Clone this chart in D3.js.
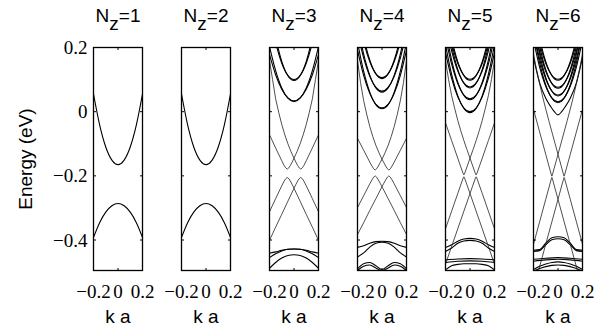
<!DOCTYPE html>
<html>
<head>
<meta charset="utf-8">
<script src="https://cdn.jsdelivr.net/npm/d3@7"></script>
<style>
  body { margin: 0; background: #fff; }
</style>
</head>
<body>
<div id="chart"></div>
<script>
// ---------------- data ----------------
const nzLabels = [1, 2, 3, 4, 5, 6];
const kTicks = [-0.2, 0, 0.2];
const kTickLabels = ["\u22120.2", "0", "0.2"];
const eTicks = [-0.4, -0.2, 0, 0.2];
const eTickLabels = ["\u22120.4", "\u22120.2", "0", "0.2"];
const kDomain = [-0.2, 0.2];
const eDomain = [-0.495, 0.2];

// smooth bulk-like subbands, [k a, E] pairs
const subbandsNz1 = [
  [[-0.2,0.055],[-0.15,-0.041],[-0.1,-0.110],[-0.05,-0.151],[0,-0.165],[0.05,-0.151],[0.1,-0.110],[0.15,-0.041],[0.2,0.055]],
  [[-0.2,-0.392],[-0.15,-0.346],[-0.1,-0.313],[-0.05,-0.293],[0,-0.286],[0.05,-0.293],[0.1,-0.313],[0.15,-0.346],[0.2,-0.392]]
];
const subbandsNz2 = [
  [[-0.2,0.055],[-0.15,-0.041],[-0.1,-0.110],[-0.05,-0.151],[0,-0.165],[0.05,-0.151],[0.1,-0.110],[0.15,-0.041],[0.2,0.055]],
  [[-0.2,-0.392],[-0.15,-0.346],[-0.1,-0.313],[-0.05,-0.293],[0,-0.286],[0.05,-0.293],[0.1,-0.313],[0.15,-0.346],[0.2,-0.392]]
];
const subbandsNz3 = [
  [[-0.2,0.304],[-0.15,0.215],[-0.1,0.151],[-0.05,0.113],[0,0.100],[0.05,0.113],[0.1,0.151],[0.15,0.215],[0.2,0.304]],
  [[-0.2,0.337],[-0.15,0.232],[-0.1,0.157],[-0.05,0.112],[0,0.097],[0.05,0.112],[0.1,0.157],[0.15,0.232],[0.2,0.337]],
  [[-0.2,0.178],[-0.15,0.115],[-0.1,0.070],[-0.05,0.043],[0,0.034],[0.05,0.043],[0.1,0.070],[0.15,0.115],[0.2,0.178]],
  [[-0.2,0.203],[-0.15,0.128],[-0.1,0.074],[-0.05,0.042],[0,0.031],[0.05,0.042],[0.1,0.074],[0.15,0.128],[0.2,0.203]],
  [[-0.2,-0.455],[-0.15,-0.443],[-0.1,-0.434],[-0.05,-0.429],[0,-0.428],[0.05,-0.429],[0.1,-0.432],[0.15,-0.437],[0.2,-0.441]],
  [[-0.2,-0.441],[-0.15,-0.437],[-0.1,-0.432],[-0.05,-0.429],[0,-0.428],[0.05,-0.429],[0.1,-0.434],[0.15,-0.443],[0.2,-0.455]],
  [[-0.2,-0.488],[-0.15,-0.470],[-0.1,-0.456],[-0.05,-0.448],[0,-0.446],[0.05,-0.448],[0.1,-0.456],[0.15,-0.470],[0.2,-0.488]]
];
const subbandsNz4 = [
  [[-0.2,0.306],[-0.15,0.2185],[-0.1,0.156],[-0.05,0.1185],[0,0.106],[0.05,0.1185],[0.1,0.156],[0.15,0.2185],[0.2,0.306]],
  [[-0.2,0.335],[-0.15,0.2335],[-0.1,0.161],[-0.05,0.1175],[0,0.103],[0.05,0.1175],[0.1,0.161],[0.15,0.2335],[0.2,0.335]],
  [[-0.2,0.248],[-0.15,0.1675],[-0.1,0.110],[-0.05,0.0755],[0,0.064],[0.05,0.0755],[0.1,0.110],[0.15,0.1675],[0.2,0.248]],
  [[-0.2,0.273],[-0.15,0.180],[-0.1,0.114],[-0.05,0.0743],[0,0.061],[0.05,0.0743],[0.1,0.114],[0.15,0.180],[0.2,0.273]],
  [[-0.2,0.192],[-0.15,0.113],[-0.1,0.057],[-0.05,0.023],[0,0.012],[0.05,0.023],[0.1,0.057],[0.15,0.113],[0.2,0.192]],
  [[-0.2,0.217],[-0.15,0.126],[-0.1,0.061],[-0.05,0.022],[0,0.009],[0.05,0.022],[0.1,0.061],[0.15,0.126],[0.2,0.217]],
  [[-0.2,-0.423],[-0.15,-0.418],[-0.1,-0.410],[-0.05,-0.405],[0,-0.404],[0.05,-0.405],[0.1,-0.410],[0.15,-0.418],[0.2,-0.423]],
  [[-0.2,-0.453],[-0.15,-0.440],[-0.1,-0.422],[-0.05,-0.410],[0,-0.407],[0.05,-0.410],[0.1,-0.422],[0.15,-0.440],[0.2,-0.453]],
  [[-0.2,-0.490],[-0.15,-0.474],[-0.1,-0.470],[-0.05,-0.480],[0,-0.492],[0.05,-0.480],[0.1,-0.470],[0.15,-0.474],[0.2,-0.490]],
  [[-0.2,-0.495],[-0.15,-0.482],[-0.1,-0.478],[-0.05,-0.487],[0,-0.495],[0.05,-0.487],[0.1,-0.478],[0.15,-0.482],[0.2,-0.495]]
];
const subbandsNz5 = [
  [[-0.2,0.301],[-0.15,0.2135],[-0.1,0.151],[-0.05,0.1135],[0,0.101],[0.05,0.1135],[0.1,0.151],[0.15,0.2135],[0.2,0.301]],
  [[-0.2,0.330],[-0.15,0.2285],[-0.1,0.156],[-0.05,0.1125],[0,0.098],[0.05,0.1125],[0.1,0.156],[0.15,0.2285],[0.2,0.330]],
  [[-0.2,0.277],[-0.15,0.1895],[-0.1,0.127],[-0.05,0.0895],[0,0.077],[0.05,0.0895],[0.1,0.127],[0.15,0.1895],[0.2,0.277]],
  [[-0.2,0.306],[-0.15,0.2045],[-0.1,0.132],[-0.05,0.0885],[0,0.074],[0.05,0.0885],[0.1,0.132],[0.15,0.2045],[0.2,0.306]],
  [[-0.2,0.232],[-0.15,0.148],[-0.1,0.088],[-0.05,0.052],[0,0.040],[0.05,0.052],[0.1,0.088],[0.15,0.148],[0.2,0.232]],
  [[-0.2,0.257],[-0.15,0.161],[-0.1,0.092],[-0.05,0.0508],[0,0.037],[0.05,0.0508],[0.1,0.092],[0.15,0.161],[0.2,0.257]],
  [[-0.2,0.184],[-0.15,0.1035],[-0.1,0.046],[-0.05,0.0115],[0,0.000],[0.05,0.0115],[0.1,0.046],[0.15,0.1035],[0.2,0.184]],
  [[-0.2,0.209],[-0.15,0.116],[-0.1,0.050],[-0.05,0.0103],[0,-0.003],[0.05,0.0103],[0.1,0.050],[0.15,0.116],[0.2,0.209]],
  [[-0.2,-0.423],[-0.15,-0.415],[-0.1,-0.404],[-0.05,-0.397],[0,-0.395],[0.05,-0.397],[0.1,-0.404],[0.15,-0.415],[0.2,-0.423]],
  [[-0.2,-0.436],[-0.15,-0.425],[-0.1,-0.410],[-0.05,-0.403],[0,-0.401],[0.05,-0.403],[0.1,-0.410],[0.15,-0.425],[0.2,-0.436]],
  [[-0.2,-0.462],[-0.1,-0.459],[0,-0.458],[0.1,-0.459],[0.2,-0.462]],
  [[-0.2,-0.470],[-0.1,-0.466],[0,-0.465],[0.1,-0.466],[0.2,-0.470]],
  [[-0.2,-0.493],[-0.15,-0.480],[-0.1,-0.476],[-0.05,-0.474],[0,-0.474],[0.05,-0.474],[0.1,-0.476],[0.15,-0.480],[0.2,-0.493]]
];
const subbandsNz6 = [
  [[-0.2,0.301],[-0.15,0.2135],[-0.1,0.151],[-0.05,0.1135],[0,0.101],[0.05,0.1135],[0.1,0.151],[0.15,0.2135],[0.2,0.301]],
  [[-0.2,0.330],[-0.15,0.2285],[-0.1,0.156],[-0.05,0.1125],[0,0.098],[0.05,0.1125],[0.1,0.156],[0.15,0.2285],[0.2,0.330]],
  [[-0.2,0.276],[-0.15,0.1885],[-0.1,0.126],[-0.05,0.0885],[0,0.076],[0.05,0.0885],[0.1,0.126],[0.15,0.1885],[0.2,0.276]],
  [[-0.2,0.305],[-0.15,0.2035],[-0.1,0.131],[-0.05,0.0875],[0,0.073],[0.05,0.0875],[0.1,0.131],[0.15,0.2035],[0.2,0.305]],
  [[-0.2,0.252],[-0.15,0.1645],[-0.1,0.102],[-0.05,0.0645],[0,0.052],[0.05,0.0645],[0.1,0.102],[0.15,0.1645],[0.2,0.252]],
  [[-0.2,0.281],[-0.15,0.1795],[-0.1,0.107],[-0.05,0.0635],[0,0.049],[0.05,0.0635],[0.1,0.107],[0.15,0.1795],[0.2,0.281]],
  [[-0.2,0.223],[-0.15,0.139],[-0.1,0.079],[-0.05,0.043],[0,0.031],[0.05,0.043],[0.1,0.079],[0.15,0.139],[0.2,0.223]],
  [[-0.2,0.248],[-0.15,0.1518],[-0.1,0.083],[-0.05,0.0418],[0,0.028],[0.05,0.0418],[0.1,0.083],[0.15,0.1518],[0.2,0.248]],
  [[-0.2,0.170],[-0.15,0.090],[-0.1,0.042],[-0.06,0.016],[-0.03,0.000],[0,-0.010],[0.03,0.000],[0.06,0.016],[0.1,0.042],[0.15,0.090],[0.2,0.170]],
  [[-0.2,-0.432],[-0.15,-0.430],[-0.1,-0.410],[-0.05,-0.393],[0,-0.390],[0.05,-0.393],[0.1,-0.410],[0.15,-0.430],[0.2,-0.432]],
  [[-0.2,-0.436],[-0.15,-0.433],[-0.1,-0.415],[-0.05,-0.399],[0,-0.396],[0.05,-0.399],[0.1,-0.415],[0.15,-0.433],[0.2,-0.436]],
  [[-0.2,-0.460],[-0.1,-0.457],[0,-0.455],[0.1,-0.457],[0.2,-0.460]],
  [[-0.2,-0.466],[-0.1,-0.462],[0,-0.460],[0.1,-0.462],[0.2,-0.466]],
  [[-0.2,-0.492],[-0.15,-0.482],[-0.1,-0.475],[-0.05,-0.470],[0,-0.468],[0.05,-0.470],[0.1,-0.475],[0.15,-0.482],[0.2,-0.492]],
  [[-0.2,-0.497],[-0.15,-0.489],[-0.1,-0.483],[-0.05,-0.479],[0,-0.478],[0.05,-0.479],[0.1,-0.483],[0.15,-0.489],[0.2,-0.497]]
];

// in-gap lines (drawn point to point)
const surfaceNz1 = [];
const surfaceNz2 = [];
const surfaceNz3 = [
  [[-0.2,-0.072],[-0.15,-0.113],[-0.1,-0.153],[-0.08,-0.168],[-0.068,-0.175],[-0.055,-0.179],[-0.042,-0.175],[-0.03,-0.168],[-0.015,-0.157],[0,-0.145],[0.015,-0.157],[0.03,-0.168],[0.042,-0.175],[0.055,-0.179],[0.068,-0.175],[0.08,-0.168],[0.1,-0.153],[0.15,-0.113],[0.2,-0.072]],
  [[-0.2,0.16],[-0.175,0.10],[-0.15,0.04],[-0.125,-0.002],[-0.1,-0.04],[-0.075,-0.072],[-0.05,-0.1],[-0.025,-0.124],[0,-0.145],[0.025,-0.124],[0.05,-0.1],[0.075,-0.072],[0.1,-0.04],[0.125,-0.002],[0.15,0.04],[0.175,0.10],[0.2,0.16]],
  [[-0.2,-0.312],[-0.15,-0.271],[-0.1,-0.231],[-0.08,-0.216],[-0.068,-0.209],[-0.055,-0.205],[-0.042,-0.209],[-0.03,-0.216],[-0.015,-0.227],[0,-0.239],[0.015,-0.227],[0.03,-0.216],[0.042,-0.209],[0.055,-0.205],[0.068,-0.209],[0.08,-0.216],[0.1,-0.231],[0.15,-0.271],[0.2,-0.312]],
  [[-0.2,-0.401],[-0.15,-0.360],[-0.1,-0.320],[-0.05,-0.279],[0,-0.239],[0.05,-0.279],[0.1,-0.320],[0.15,-0.360],[0.2,-0.401]]
];
const surfaceNz4 = [
  [[-0.2,-0.083],[-0.15,-0.120],[-0.1,-0.157],[-0.082,-0.1695],[-0.068,-0.178],[-0.056,-0.182],[-0.044,-0.178],[-0.03,-0.1695],[-0.015,-0.159],[0,-0.148],[0.015,-0.159],[0.03,-0.1695],[0.044,-0.178],[0.056,-0.182],[0.068,-0.178],[0.082,-0.1695],[0.1,-0.157],[0.15,-0.120],[0.2,-0.083]],
  [[-0.2,0.16],[-0.175,0.09],[-0.15,0.035],[-0.125,-0.008],[-0.1,-0.046],[-0.075,-0.078],[-0.05,-0.105],[-0.025,-0.128],[0,-0.148],[0.025,-0.128],[0.05,-0.105],[0.075,-0.078],[0.1,-0.046],[0.125,-0.008],[0.15,0.035],[0.175,0.09],[0.2,0.16]],
  [[-0.2,-0.299],[-0.15,-0.262],[-0.1,-0.225],[-0.082,-0.2125],[-0.068,-0.204],[-0.056,-0.200],[-0.044,-0.204],[-0.03,-0.2125],[-0.015,-0.223],[0,-0.234],[0.015,-0.223],[0.03,-0.2125],[0.044,-0.204],[0.056,-0.200],[0.068,-0.204],[0.082,-0.2125],[0.1,-0.225],[0.15,-0.262],[0.2,-0.299]],
  [[-0.2,-0.383],[-0.15,-0.346],[-0.1,-0.308],[-0.05,-0.271],[0,-0.234],[0.05,-0.271],[0.1,-0.308],[0.15,-0.346],[0.2,-0.383]]
];
const surfaceNz5 = [
  [[-0.2,-0.035],[-0.15,-0.090],[-0.1,-0.145],[-0.055,-0.194],[-0.05,-0.197],[-0.045,-0.194],[0,-0.145],[0.045,-0.194],[0.05,-0.197],[0.055,-0.194],[0.1,-0.145],[0.15,-0.090],[0.2,-0.035]],
  [[-0.2,0.16],[-0.175,0.10],[-0.15,0.05],[-0.125,0.01],[-0.1,-0.027],[-0.075,-0.06],[-0.05,-0.09],[-0.025,-0.118],[0,-0.145],[0.025,-0.118],[0.05,-0.09],[0.075,-0.06],[0.1,-0.027],[0.125,0.01],[0.15,0.05],[0.175,0.10],[0.2,0.16]],
  [[-0.2,-0.365],[-0.15,-0.310],[-0.1,-0.255],[-0.055,-0.206],[-0.05,-0.203],[-0.045,-0.206],[0,-0.255],[0.045,-0.206],[0.05,-0.203],[0.055,-0.206],[0.1,-0.255],[0.15,-0.310],[0.2,-0.365]],
  [[-0.2,-0.475],[-0.1,-0.365],[0,-0.255],[0.1,-0.365],[0.2,-0.475]]
];
const surfaceNz6 = [
  [[-0.2,0.007],[-0.15,-0.063],[-0.1,-0.133],[-0.054,-0.197],[-0.05,-0.201],[-0.046,-0.197],[0,-0.133],[0.046,-0.197],[0.05,-0.201],[0.054,-0.197],[0.1,-0.133],[0.15,-0.063],[0.2,0.007]],
  [[-0.2,0.18],[-0.175,0.13],[-0.15,0.087],[-0.125,0.046],[-0.1,0.008],[-0.075,-0.028],[-0.05,-0.063],[-0.025,-0.098],[0,-0.133],[0.025,-0.098],[0.05,-0.063],[0.075,-0.028],[0.1,0.008],[0.125,0.046],[0.15,0.087],[0.175,0.13],[0.2,0.18]],
  [[-0.2,-0.413],[-0.15,-0.343],[-0.1,-0.273],[-0.054,-0.209],[-0.05,-0.205],[-0.046,-0.209],[0,-0.273],[0.046,-0.209],[0.05,-0.205],[0.054,-0.209],[0.1,-0.273],[0.15,-0.343],[0.2,-0.413]],
  [[-0.2,-0.553],[-0.1,-0.413],[0,-0.273],[0.1,-0.413],[0.2,-0.553]]
];

const subbandSets = [subbandsNz1, subbandsNz2, subbandsNz3, subbandsNz4, subbandsNz5, subbandsNz6];
const surfaceSets = [surfaceNz1, surfaceNz2, surfaceNz3, surfaceNz4, surfaceNz5, surfaceNz6];

// ---------------- layout ----------------
const width = 616, height = 333;
const firstLeft = 93.5, panelStep = 88, panelW = 49;
const plotTop = 47.5, plotBottom = 270.5;
const serif = "'Liberation Serif', 'Times New Roman', serif";

let svg = d3.select("#chart")
            .append("svg")
            .attr("width", width)
            .attr("height", height)
            .style("font-family", "'Liberation Sans', Arial, sans-serif");

let y = d3.scaleLinear().domain(eDomain).range([plotBottom, plotTop]);

nzLabels.forEach(function(nz, i){
    let left = firstLeft + i * panelStep;
    let x = d3.scaleLinear().domain(kDomain).range([left, left + panelW]);
    let g = svg.append("g");

    let clipId = "clip" + i;
    svg.append("clipPath").attr("id", clipId)
       .append("rect")
       .attr("x", left).attr("y", plotTop)
       .attr("width", panelW).attr("height", plotBottom - plotTop);

    let smooth = d3.line().x(d => x(d[0])).y(d => y(d[1])).curve(d3.curveMonotoneX);
    let straight = d3.line().x(d => x(d[0])).y(d => y(d[1]));

    let curves = g.append("g").attr("clip-path", "url(#" + clipId + ")");
    curves.selectAll("path.sub")
          .data(subbandSets[i])
          .join("path")
          .attr("class", "sub")
          .attr("d", smooth)
          .attr("fill", "none")
          .attr("stroke", "#000")
          .attr("stroke-width", 1.1);
    curves.selectAll("path.surf")
          .data(surfaceSets[i])
          .join("path")
          .attr("class", "surf")
          .attr("d", straight)
          .attr("fill", "none")
          .attr("stroke", "#222")
          .attr("stroke-width", 0.8);

    // ticks inside the box
    let tk = 2.5;
    kTicks.forEach(function(t){
        g.append("line").attr("x1", x(t)).attr("x2", x(t)).attr("y1", plotTop).attr("y2", plotTop + tk).attr("stroke", "#000");
        g.append("line").attr("x1", x(t)).attr("x2", x(t)).attr("y1", plotBottom).attr("y2", plotBottom - tk).attr("stroke", "#000");
    });
    eTicks.forEach(function(t){
        g.append("line").attr("x1", left).attr("x2", left + tk).attr("y1", y(t)).attr("y2", y(t)).attr("stroke", "#000");
        g.append("line").attr("x1", left + panelW).attr("x2", left + panelW - tk).attr("y1", y(t)).attr("y2", y(t)).attr("stroke", "#000");
    });

    g.append("rect")
     .attr("x", left).attr("y", plotTop)
     .attr("width", panelW).attr("height", plotBottom - plotTop)
     .attr("fill", "none")
     .attr("stroke", "#000")
     .attr("stroke-width", 1.3);

    // k tick labels
    g.selectAll("text.kt")
     .data(kTicks)
     .join("text")
     .attr("class", "kt")
     .attr("x", d => x(d))
     .attr("y", 297.5)
     .attr("text-anchor", "middle")
     .style("font-family", serif)
     .style("font-size", "19px")
     .text((d, j) => kTickLabels[j]);

    g.append("text")
     .attr("x", left + panelW / 2)
     .attr("y", 323)
     .attr("text-anchor", "middle")
     .style("font-size", "19px")
     .text("k a");

    let title = g.append("text")
                 .attr("x", left + panelW / 2)
                 .attr("y", 21.5)
                 .attr("text-anchor", "middle")
                 .style("font-size", "19px");
    title.append("tspan").text("N");
    title.append("tspan").attr("dy", 8).text("z");
    title.append("tspan").attr("dy", -8).text("=" + nz);

    if(i === 0){
        g.selectAll("text.et")
         .data(eTicks)
         .join("text")
         .attr("class", "et")
         .attr("x", left - 6)
         .attr("y", d => y(d) + 6.5)
         .attr("text-anchor", "end")
         .style("font-family", serif)
         .style("font-size", "19px")
         .text((d, j) => eTickLabels[j]);
    }
});

svg.append("text")
   .attr("transform", "translate(32," + ((plotTop + plotBottom) / 2) + ") rotate(-90)")
   .attr("text-anchor", "middle")
   .style("font-size", "19px")
   .text("Energy (eV)");
</script>
</body>
</html>
